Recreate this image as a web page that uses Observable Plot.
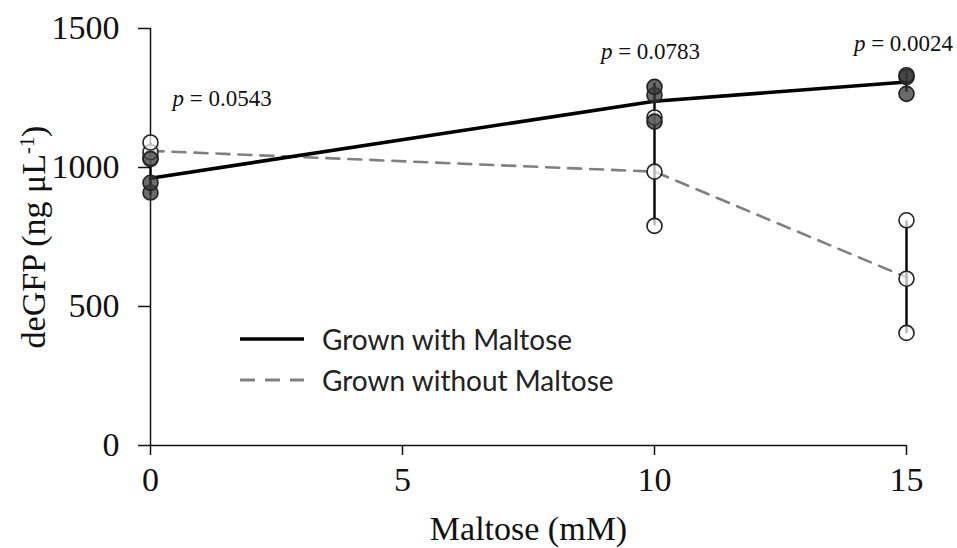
<!DOCTYPE html>
<html>
<head>
<meta charset="utf-8">
<script src="https://cdn.jsdelivr.net/npm/d3@7"></script>
<script src="https://cdn.jsdelivr.net/npm/@observablehq/plot@0.6"></script>
<style>
  html, body { margin: 0; padding: 0; background: white; }
  #wrap { position: relative; width: 957px; height: 548px; }
  #legend { position: absolute; left: 238px; top: 318px; font-family: Lato, "Liberation Sans", sans-serif; font-size: 28px; color: #222; }
  #legend .row { display: flex; align-items: center; height: 41px; }
  #legend svg { margin-right: 16px; }
</style>
</head>
<body>
<div id="wrap"></div>
<script>
// ---- data ----
const maltose = [0, 10, 15];
const withMaltose = [[910, 945, 1030], [1165, 1260, 1290], [1265, 1325, 1332]];
const withoutMaltose = [[1035, 1055, 1090], [790, 985, 1180], [405, 600, 810]];
const pValues = ["0.0543", "0.0783", "0.0024"];
const xTicks = [0, 5, 10, 15];
const yTicks = [0, 500, 1000, 1500];
const seriesNames = ["Grown with Maltose", "Grown without Maltose"];

// ---- derived tables ----
function summarize(groups, name) {
  return groups.map((vals, i) => {
    const mean = d3.mean(vals);
    const sd = d3.deviation(vals);
    return { x: maltose[i], mean, lo: mean - sd, hi: mean + sd, series: name };
  });
}
function points(groups, name) {
  return groups.flatMap((vals, i) => vals.map(v => ({ x: maltose[i], y: v, series: name })));
}
const sumWith = summarize(withMaltose, seriesNames[0]);
const sumWithout = summarize(withoutMaltose, seriesNames[1]);
const ptsWith = points(withMaltose, seriesNames[0]);
const ptsWithout = points(withoutMaltose, seriesNames[1]);
const pLabels = maltose.map((m, i) => ({
  x: m,
  y: d3.max([...withMaltose[i], ...withoutMaltose[i]]),
  text: "p = " + pValues[i]
}));

const chart = Plot.plot({
  width: 957,
  height: 548,
  marginLeft: 150,
  marginRight: 51,
  marginTop: 28,
  marginBottom: 103,
  style: { fontFamily: "'Liberation Serif', 'Times New Roman', serif", fontSize: "34px", color: "#111", background: "white" },
  x: { domain: [0, 15] },
  y: { domain: [0, 1500] },
  marks: [
    Plot.axisX({ ticks: xTicks, tickSize: 10, tickPadding: 11, fontSize: 34, strokeWidth: 1.5, tickFormat: "d",
                 label: "Maltose (mM)", labelAnchor: "center", labelOffset: 94, labelArrow: "none" }),
    Plot.axisY({ ticks: yTicks, tickSize: 12, tickPadding: 19, fontSize: 34, strokeWidth: 1.5, tickFormat: "d",
                 label: "deGFP (ng μL-1)", labelAnchor: "center", labelOffset: 130, labelArrow: "none" }),
    Plot.ruleX([0], { stroke: "#111", strokeWidth: 1.5 }),
    Plot.ruleY([0], { stroke: "#111", strokeWidth: 1.5 }),
    Plot.line(sumWithout, { x: "x", y: "mean", stroke: "#808080", strokeWidth: 2.6, strokeDasharray: "13,9" }),
    Plot.line(sumWith, { x: "x", y: "mean", stroke: "#000", strokeWidth: 3.6 }),
    Plot.ruleX(sumWithout, { x: "x", y1: "lo", y2: "hi", stroke: "#000", strokeWidth: 2.4 }),
    Plot.ruleX(sumWith, { x: "x", y1: "lo", y2: "hi", stroke: "#000", strokeWidth: 2.4 }),
    Plot.dot(ptsWithout, { x: "x", y: "y", r: 7.5, fill: "#fff", fillOpacity: 0.7, stroke: "#222", strokeWidth: 1.6 }),
    Plot.dot(ptsWith, { x: "x", y: "y", r: 7.5, fill: "#3a3a3a", fillOpacity: 0.75, stroke: "#222", strokeWidth: 1.6 }),
    Plot.text(pLabels.slice(0, 1), { x: "x", y: "y", text: "text", textAnchor: "start", dx: 22, dy: -44, fontSize: 23 }),
    Plot.text(pLabels.slice(1, 2), { x: "x", y: "y", text: "text", textAnchor: "middle", dx: -4, dy: -35, fontSize: 23 }),
    Plot.text(pLabels.slice(2, 3), { x: "x", y: "y", text: "text", textAnchor: "middle", dx: -3, dy: -32, fontSize: 23 })
  ]
});

// italic "p" and superscript in the y label
chart.querySelectorAll("text").forEach(t => {
  const s = t.textContent;
  if (s.startsWith("p = ")) {
    t.innerHTML = '<tspan font-style="italic">p</tspan>' + s.slice(1);
  } else if (s === "deGFP (ng μL-1)") {
    t.innerHTML = 'deGFP (ng μL<tspan baseline-shift="super" font-size="60%">-1</tspan>)';
  }
});

const wrap = document.getElementById("wrap");
wrap.appendChild(chart);

// legend
const legend = document.createElement("div");
legend.id = "legend";
legend.innerHTML = `
  <div class="row"><svg width="68" height="10"><line x1="2" x2="66" y1="5" y2="5" stroke="#000" stroke-width="3.4"/></svg><span>${seriesNames[0]}</span></div>
  <div class="row"><svg width="68" height="10"><line x1="2" x2="66" y1="5" y2="5" stroke="#808080" stroke-width="3" stroke-dasharray="15,10"/></svg><span>${seriesNames[1]}</span></div>`;
wrap.appendChild(legend);
</script>
</body>
</html>
